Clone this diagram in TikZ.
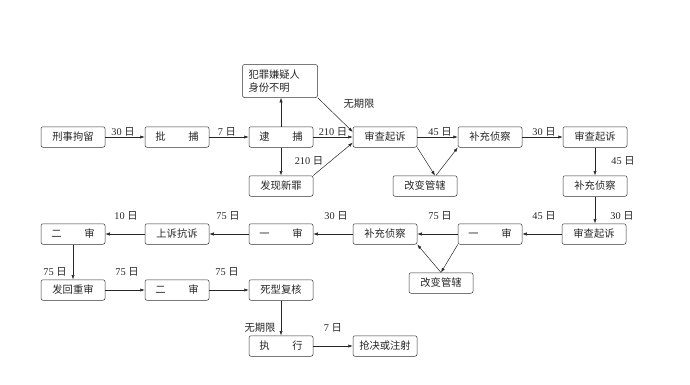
\documentclass[tikz,border=0pt]{standalone}
\usepackage{fontspec}
\setmainfont{Liberation Serif}
\newfontfamily\cjk{Noto Sans CJK SC}
\usetikzlibrary{arrows.meta}
\newcommand{\zhday}{{\cjk 日}}
\begin{document}
\begin{tikzpicture}[x=1pt,y=-1pt,
  box/.style={draw=black!80, line width=0.5pt, rounded corners=2pt, minimum width=64pt, minimum height=20.5pt, inner sep=0pt, font=\cjk\fontsize{10.3}{12.5}\selectfont, text=black!85},
  lbl/.style={font=\fontsize{10.3}{12}\selectfont, inner sep=0pt, text=black!85},
  arr/.style={-{Latex[length=4.5pt,width=3.2pt]}, line width=0.5pt, draw=black!85}]
\useasboundingbox (0,0) rectangle (690,384);
% row 1
\node[box] (jl) at (73,137) {刑事拘留};
\node[box] (pb) at (177,137) {批\hspace{2.2em}捕};
\node[box] (db) at (281,137) {逮\hspace{2.2em}捕};
\node[box] (sc1) at (385,137) {审查起诉};
\node[box] (bc1) at (490,137) {补充侦察};
\node[box] (sc2) at (595,137) {审查起诉};
\node[box, minimum width=75pt, minimum height=33pt, text width=63pt, align=left] (fz) at (280,81) {犯罪嫌疑人\\身份不明};
\node[box] (fx) at (281,186) {发现新罪};
\node[box] (gb1) at (425,186) {改变管辖};
\node[box] (bc2) at (595,186) {补充侦察};
% row 3
\node[box] (es1) at (73,234) {二\hspace{2.2em}审};
\node[box] (ss) at (177,234) {上诉抗诉};
\node[box] (ys1) at (281,234) {一\hspace{2.2em}审};
\node[box] (bc3) at (385,234) {补充侦察};
\node[box] (ys2) at (490,234) {一\hspace{2.2em}审};
\node[box] (sc3) at (594,234) {审查起诉};
\node[box] (gb2) at (441,283) {改变管辖};
% row 4
\node[box] (fh) at (73,290) {发回重审};
\node[box] (es2) at (177,290) {二\hspace{2.2em}审};
\node[box] (sx) at (281,290) {死型复核};
% row 5
\node[box] (zx) at (281,346) {执\hspace{2.2em}行};
\node[box] (qj) at (385,346) {抢决或注射};
% connectors
\draw[arr] (jl) -- (pb);
\draw[arr] (pb) -- (db);
\draw[arr] (db) -- (sc1);
\draw[arr] (db.north) -- (db.north |- fz.south);
\draw[arr] (db) -- (fx);
\draw[arr] (fx.north east) -- (sc1.190);
\draw[arr] (fz.south east) -- (sc1.171);
\draw[arr] (sc1) -- (bc1);
\draw[arr] (sc1.south east) -- ([xshift=10pt]gb1.north);
\draw[arr] ([xshift=11pt]gb1.north) -- (bc1.south west);
\draw[arr] (bc1) -- (sc2);
\draw[arr] (sc2) -- (bc2);
\draw[arr] (bc2.south) -- (bc2.south |- sc3.north);
\draw[arr] (sc3) -- (ys2);
\draw[arr] (ys2) -- (bc3);
\draw[arr] (ys2.south west) -- (gb2.north);
\draw[arr] (gb2.north) -- (bc3.south east);
\draw[arr] (bc3) -- (ys1);
\draw[arr] (ys1) -- (ss);
\draw[arr] (ss) -- (es1);
\draw[arr] (es1) -- (fh);
\draw[arr] (fh) -- (es2);
\draw[arr] (es2) -- (sx);
\draw[arr] (sx) -- (zx);
\draw[arr] (zx) -- (qj);
% labels
\node[lbl] (l1) at (123,132) {30 \zhday};
\node[lbl] (l2) at (227,132) {7 \zhday};
\node[lbl] (l3) at (333,132) {210 \zhday};
\node[lbl] (l4) at (309,161) {210 \zhday};
\node[lbl, font=\cjk\fontsize{10.3}{12}\selectfont] (l5) at (359,104) {无期限};
\node[lbl] (l6) at (440,132) {45 \zhday};
\node[lbl] (l7) at (544,132) {30 \zhday};
\node[lbl] (l8) at (623,161) {45 \zhday};
\node[lbl] (l9) at (622,216) {30 \zhday};
\node[lbl] (l10) at (544,216) {45 \zhday};
\node[lbl] (l11) at (440,216) {75 \zhday};
\node[lbl] (l12) at (336,216) {30 \zhday};
\node[lbl] (l13) at (228,216) {75 \zhday};
\node[lbl] (l14) at (126,216) {10 \zhday};
\node[lbl] (l15) at (55,272) {75 \zhday};
\node[lbl] (l16) at (127,272) {75 \zhday};
\node[lbl] (l17) at (227,272) {75 \zhday};
\node[lbl, font=\cjk\fontsize{10.3}{12}\selectfont] (l18) at (260,328) {无期限};
\node[lbl] (l19) at (333,328) {7 \zhday};
\end{tikzpicture}
\end{document}
